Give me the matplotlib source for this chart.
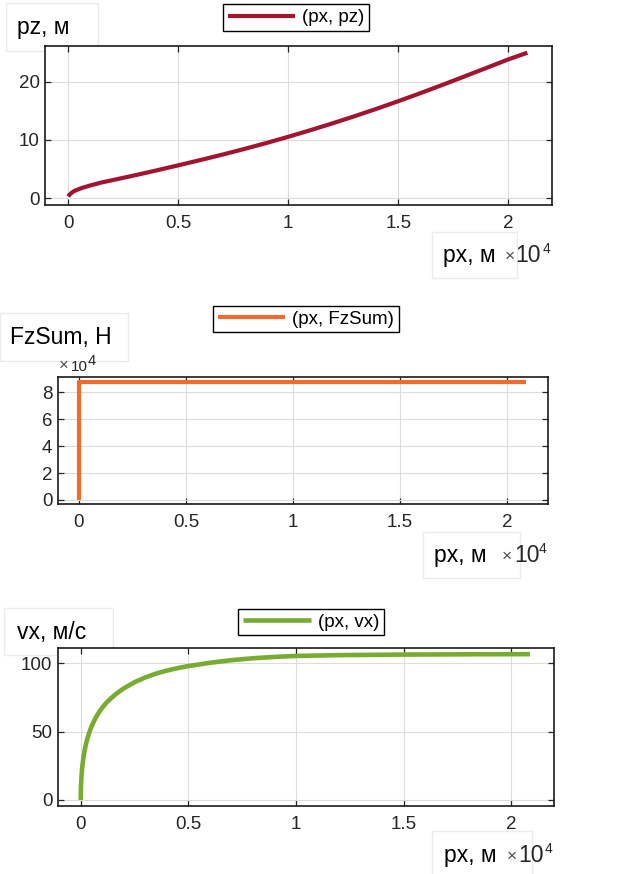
import matplotlib
matplotlib.use('Agg')
import matplotlib.pyplot as plt
from matplotlib.patches import Rectangle
from matplotlib.ticker import FuncFormatter

plt.rcParams['font.family'] = ['Liberation Sans', 'DejaVu Sans']

# --- data (px in metres) ---
pz_px = [0, 50, 150, 300, 600, 1000, 1500, 2000, 3000, 4000, 5000, 6000, 7000, 8000,
         9000, 10000, 11000, 12000, 13000, 14000, 15000, 16000, 17000, 18000, 19000,
         20000, 20870]
pz = [0.3, 0.6, 0.95, 1.3, 1.75, 2.2, 2.7, 3.1, 3.92, 4.77, 5.65, 6.55, 7.48, 8.45,
      9.47, 10.54, 11.66, 12.83, 14.05, 15.32, 16.64, 18.01, 19.42, 20.87, 22.33,
      23.8, 24.95]

fz_px = [0, 0, 20870]
fz_sum = [0, 87900, 87900]

vx_px = [0, 10, 25, 46, 80, 120, 170, 230, 300, 380, 470, 580, 700, 850, 1000, 1200,
         1400, 1700, 2000, 2500, 3000, 3500, 4000, 4500, 5000, 6000, 7000, 8000, 9000,
         10000, 12000, 15000, 18000, 20870]
vx = [0, 9, 14.2, 19.5, 25.2, 30.2, 35.2, 39.8, 44.2, 48.4, 52.4, 56.4, 60.2, 64.1,
      67.4, 71.1, 74.2, 78.2, 81.5, 86.0, 89.5, 92.3, 94.5, 96.3, 97.8, 100.2, 102.1,
      103.5, 104.5, 105.2, 105.8, 106.2, 106.4, 106.5]

W, H = 640, 874
fig = plt.figure(figsize=(W / 100, H / 100), dpi=100)


def fx(p):
    return p / W


def fy(p):
    return 1 - p / H


def rect(l, t, r, b):
    return [fx(l), fy(b), (r - l) / W, (b - t) / H]


def label_box(l, t, r, b):
    fig.patches.append(Rectangle((fx(l), fy(b)), (r - l) / W, (b - t) / H,
                                 transform=fig.transFigure, facecolor='white',
                                 edgecolor='#ebebeb', lw=1, zorder=-1))


def times_ten(xx, x10, x4, base, base4, fsx, fs, fs4):
    fig.text(fx(xx), fy(base - 1), '×', fontsize=fsx, va='baseline',
             ha='left', color='#4d4d4d')
    fig.text(fx(x10), fy(base), '10', fontsize=fs, va='baseline', ha='left',
             color='#262626')
    fig.text(fx(x4), fy(base4), '4', fontsize=fs4, va='baseline', ha='left',
             color='#262626')


def style(ax, xlim, ylim, yticks):
    ax.set_xlim(xlim)
    ax.set_ylim(ylim)
    ax.set_xticks([0, 5000, 10000, 15000, 20000])
    ax.xaxis.set_major_formatter(FuncFormatter(lambda v, p: f'{v / 1e4:g}'))
    ax.set_yticks(yticks)
    ax.grid(True, color='#dcdcdc', lw=0.8)
    ax.set_axisbelow(True)
    ax.tick_params(direction='in', top=True, right=True, length=4, width=0.9,
                   color='#262626', labelsize=13.5, labelcolor='#262626')
    ax.tick_params(axis='x', pad=7)
    ax.tick_params(axis='y', pad=4)
    for s in ax.spines.values():
        s.set_color('#1a1a1a')
        s.set_linewidth(1.2)


def legend(ax, cx, cy):
    lg = ax.legend(loc='center', bbox_to_anchor=(fx(cx), fy(cy)),
                   bbox_transform=fig.transFigure, fontsize=13.5,
                   handlelength=3.6, handletextpad=0.37, borderpad=0.25,
                   borderaxespad=0, fancybox=False, framealpha=1)
    lg.get_frame().set_edgecolor('black')
    lg.get_frame().set_linewidth(1)


# --- pz ---
ax1 = fig.add_axes(rect(45.3, 46, 552, 205))
ax1.plot(pz_px, pz, color='#A2142F', lw=3, solid_capstyle='butt', label='(px, pz)')
style(ax1, (-1045, 21990), (-1.15, 26.1), [0, 10, 20])
legend(ax1, 296, 17.5)
label_box(5.7, 3.3, 97.7, 50.7)
fig.text(fx(17.3), fy(34.3), 'pz, м', fontsize=16.5, va='baseline')
label_box(431.7, 231.7, 517.3, 278.3)
fig.text(fx(443.3), fy(261.7), 'px, м', fontsize=16.5, va='baseline')
times_ten(505, 515, 543, 261.7, 252.7, 12.5, 16.5, 10)

# --- FzSum ---
ax2 = fig.add_axes(rect(58, 376.7, 548, 504))
ax2.plot(fz_px, fz_sum, color='#EF6B2E', lw=3, solid_capstyle='butt', label='(px, FzSum)')
style(ax2, (-981, 21916), (-3000, 91600), [0, 20000, 40000, 60000, 80000])
ax2.yaxis.set_major_formatter(FuncFormatter(lambda v, p: f'{v / 1e4:g}'))
legend(ax2, 306, 319)
label_box(0, 313, 128, 360.7)
fig.text(fx(10), fy(344.3), 'FzSum, Н', fontsize=16.5, va='baseline')
times_ten(59, 70.5, 87.5, 371, 365, 12, 11, 10.5)
label_box(422.7, 531.7, 520, 578.3)
fig.text(fx(434.3), fy(561.7), 'px, м', fontsize=16.5, va='baseline')
times_ten(502, 514, 539, 561.7, 552.7, 12.5, 16.5, 10)

# --- vx ---
ax3 = fig.add_axes(rect(58, 648, 554, 806))
ax3.plot(vx_px, vx, color='#77AC30', lw=3.3, solid_capstyle='butt', label='(px, vx)')
style(ax3, (-1055, 21990), (-4.4, 111), [0, 50, 100])
legend(ax3, 311, 622)
label_box(4, 608, 113, 655)
fig.text(fx(17.3), fy(639), 'vx, м/с', fontsize=16.5, va='baseline')
label_box(432, 830.7, 532, 880)
fig.text(fx(444.3), fy(861.7), 'px, м', fontsize=16.5, va='baseline')
times_ten(507, 518, 545, 861.7, 852.7, 12.5, 16.5, 10)

fig.savefig('out.png', dpi=100)
